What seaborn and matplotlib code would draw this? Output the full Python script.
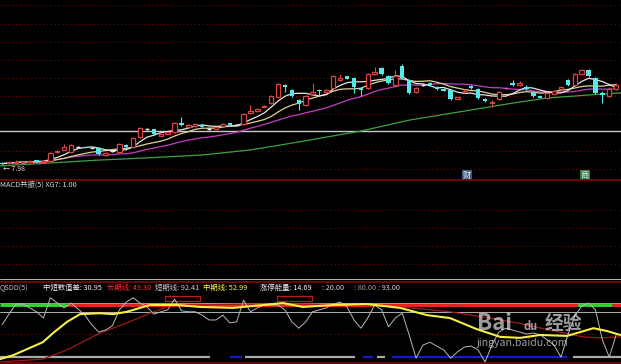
import matplotlib.pyplot as plt
import matplotlib.patches as mpatches
import numpy as np
import pandas as pd
import seaborn as sns

# daily candles (price)
opens = [8.02, 8.00, 8.01, 8.02, 8.04, 8.08, 8.05, 8.06, 8.30, 8.38,
         8.32, 8.46, 8.44, 8.43, 8.42, 8.24, 8.33, 8.31, 8.51, 8.45,
         8.73, 8.95, 8.95, 8.76, 8.82, 8.86, 9.10, 9.01, 9.03, 9.06,
         8.96, 8.95, 9.02, 9.10, 9.06, 9.08, 9.40, 9.44, 9.56, 9.66,
         9.83, 10.16, 10.02, 9.75, 9.61, 9.92, 10.03, 9.97, 10.08, 10.30,
         10.40, 10.35, 10.08, 10.08, 10.46, 10.63, 10.41, 10.16, 10.68, 10.30,
         9.97, 10.16, 10.21, 10.10, 10.05, 10.02, 9.78, 9.98, 10.13, 10.05,
         9.77, 9.66, 9.77, 10.08, 10.21, 10.16, 10.10, 9.97, 9.85, 9.80,
         9.92, 10.05, 10.30, 10.16, 10.46, 10.57, 10.35, 9.95, 9.86, 10.05]
closes = [7.99, 8.03, 8.05, 8.05, 8.07, 8.05, 8.07, 8.28, 8.35, 8.44,
          8.51, 8.46, 8.43, 8.43, 8.27, 8.28, 8.33, 8.54, 8.45, 8.70,
          8.97, 8.95, 8.81, 8.80, 8.85, 9.11, 9.05, 9.05, 9.08, 9.01,
          8.96, 8.99, 9.09, 9.07, 9.06, 9.36, 9.45, 9.50, 9.58, 9.86,
          10.19, 10.11, 9.86, 9.63, 9.86, 9.96, 9.99, 10.02, 10.41, 10.36,
          10.33, 10.11, 10.02, 10.46, 10.52, 10.46, 10.22, 10.41, 10.35, 9.94,
          10.08, 10.16, 10.16, 10.05, 10.00, 9.77, 9.82, 10.00, 10.08, 9.80,
          9.72, 9.68, 9.97, 10.08, 10.16, 10.21, 10.05, 9.86, 9.81, 9.94,
          9.99, 10.11, 10.16, 10.46, 10.57, 10.41, 9.94, 9.88, 10.05, 10.15]
highs = [8.05, 8.06, 8.08, 8.07, 8.10, 8.10, 8.09, 8.30, 8.38, 8.52,
         8.53, 8.48, 8.46, 8.45, 8.44, 8.30, 8.36, 8.56, 8.53, 8.72,
         8.99, 8.97, 8.96, 8.82, 8.87, 9.13, 9.28, 9.08, 9.12, 9.08,
         8.99, 9.01, 9.11, 9.12, 9.08, 9.38, 9.61, 9.53, 9.62, 9.88,
         10.21, 10.19, 10.05, 9.77, 9.88, 10.22, 10.05, 10.05, 10.43, 10.46,
         10.42, 10.37, 10.10, 10.48, 10.65, 10.65, 10.43, 10.57, 10.74, 10.32,
         10.10, 10.19, 10.23, 10.12, 10.07, 10.05, 9.84, 10.05, 10.15, 10.07,
         9.79, 9.75, 9.99, 10.11, 10.30, 10.26, 10.15, 9.99, 9.87, 9.96,
         10.01, 10.13, 10.32, 10.48, 10.60, 10.60, 10.37, 10.00, 10.10, 10.20]
lows = [7.98, 7.98, 7.99, 8.00, 8.02, 8.03, 8.03, 8.05, 8.28, 8.36,
        8.30, 8.44, 8.42, 8.41, 8.24, 8.20, 8.30, 8.29, 8.43, 8.43,
        8.70, 8.92, 8.79, 8.74, 8.80, 8.84, 9.03, 8.99, 9.01, 8.99,
        8.93, 8.93, 9.00, 9.05, 9.04, 9.06, 9.38, 9.42, 9.54, 9.64,
        9.81, 9.97, 9.84, 9.47, 9.58, 9.90, 9.86, 9.95, 10.06, 10.28,
        10.31, 9.94, 9.86, 10.06, 10.43, 10.44, 10.19, 10.10, 10.33, 9.91,
        9.95, 10.13, 10.13, 10.03, 9.98, 9.74, 9.76, 9.95, 10.06, 9.78,
        9.70, 9.55, 9.75, 10.05, 10.13, 10.14, 10.03, 9.84, 9.79, 9.78,
        9.90, 10.03, 10.13, 10.14, 10.44, 10.38, 9.92, 9.66, 9.84, 10.03]

# long moving average (bar index, price)
ma60_idx = [-0.3, 7, 14, 21, 29, 36, 43, 52, 59, 67, 74, 79, 87, 89.7]
ma60_val = [7.93, 8.01, 8.09, 8.15, 8.23, 8.37, 8.59, 8.89, 9.19, 9.44, 9.66, 9.80, 9.91, 9.94]

low_price = 7.98
ref_price = 8.89
signal_labels = ["财", "商"]
signal_idx = [67.4, 84.5]

# QSDD indicator
short_line = [39, 61, 82, 82, 74, 66, 53, 95, 84, 74,
              84, 72, 59, 39, 24, 28, 37, 70, 86, 95,
              84, 76, 61, 66, 70, 92, 68, 66, 66, 59,
              49, 49, 59, 43, 45, 90, 66, 74, 80, 80,
              80, 70, 45, 32, 45, 66, 70, 74, 82, 86,
              76, 49, 32, 53, 80, 70, 35, 53, 63, 18,
              -30, -3, 3, -5, -13, -30, -17, -7, -5, -13,
              -38, -3, 24, 32, 28, 24, 20, 22, 18, 8,
              -3, -28, 18, 57, 78, 84, 70, 8, -28, 18]
mid_idx = [-0.3, 1.6, 5.9, 7.4, 9.4, 11.3, 14.2, 16.1, 18.1, 20, 21.4, 25.4, 28.7, 33.5, 36.4,
           40.7, 43.6, 48, 52.9, 57.7, 61.6, 64.9, 68.8, 72.2, 75.1, 78, 81.9, 85.7, 87.7, 89.6]
mid_val = [-32, -24, 3, 22, 45, 61, 63, 61, 66, 74, 80, 80, 76, 74, 78,
           84, 76, 80, 82, 74, 59, 53, 30, 14, 12, 18, 16, 32, 26, 18]
long_idx = [-0.3, 5.9, 9.4, 14.2, 18.1, 21.4, 24.3, 28.7, 35.9, 43.2, 50.4, 57.7, 64.9,
            69.7, 74.6, 79.4, 84.2, 86.7, 89.7]
long_val = [-38, -32, -13, 22, 43, 63, 78, 80, 82, 82, 80, 76, 66, 55, 43, 28, 14, 12, 14]

level_start = [-0.3, 9.4, 83.3, 88.4]
level_end = [9.4, 83.3, 88.4, 89.7]
level_state = ["green", "red", "green", "red"]
box_start = [23.6, 39.9]
box_end = [28.7, 44.9]
bar_start = [-0.3, 33.0, 35.2, 52.3, 54.3, 56.5, 82.8]
bar_end = [30.1, 34.8, 51.2, 53.8, 55.5, 81.9, 89.7]
bar_state = ["gray", "blue", "gray", "blue", "gray", "blue", "gray"]

header = [("QSDD(5)", "#bdbdbd"), ("中短数值差: 30.95", "#f0f0f0"), ("长期线: 49.30", "#ff3030"),
          ("短期线: 92.41", "#cfcfcf"), ("中期线: 52.99", "#ffff55"), ("涨停能量: 14.69", "#f0f0f0"),
          (": 20.00", "#cfcfcf"), (": 80.00", "#9a9a9a"), (": 93.00", "#cfcfcf")]
header_x = [0, 43, 107, 155, 203, 260, 322, 354, 378]

sns.set_style("dark", {"axes.facecolor": "black", "figure.facecolor": "black"})
plt.rcParams["font.family"] = ["Noto Sans CJK SC", "DejaVu Sans"]

W, H = 621.0, 364.0
fig = plt.figure(figsize=(6.21, 3.64), dpi=100)
DOT = dict(color="#9a0000", lw=0.7, ls=(0, (1, 3)))


def panel(top, bottom):
    ax = fig.add_axes([0, 1 - bottom / H, 1, (bottom - top) / H])
    ax.set_facecolor("black")
    ax.set_xlim(-0.3, 89.7)
    ax.set_xticks([])
    ax.set_yticks([])
    ax.grid(False)
    for s in ax.spines.values():
        s.set_visible(False)
    return ax


def hline_px(y, color, lw=1.0, ls="-"):
    fig.add_artist(plt.Line2D([0, 1], [1 - y / H, 1 - y / H], color=color, lw=lw, ls=ls,
                              transform=fig.transFigure))


ax_k = panel(0, 180)
ax_m = panel(180, 281)
ax_q = panel(281, 364)

# ---- price panel ----
ax_k.set_ylim(12.5 - 180 / 36.3, 12.5)
for p in [12.35, 11.85, 11.35, 10.85, 10.35, 9.85, 9.35, 8.35, 7.85]:
    ax_k.axhline(p, **DOT)
ax_k.axhline(ref_price, color="#c8c8c8", lw=1.0)

df = pd.DataFrame({"open": opens, "close": closes, "high": highs, "low": lows})
df["idx"] = np.arange(len(df))
df["ma5"] = df["close"].rolling(5, min_periods=1).mean()
df["ma10"] = df["close"].rolling(10, min_periods=1).mean()
df["ma20"] = df["close"].rolling(20, min_periods=1).mean()

sns.lineplot(x=ma60_idx, y=ma60_val, ax=ax_k, color="#3da043", lw=0.9)
sns.lineplot(data=df, x="idx", y="ma20", ax=ax_k, color="#c23ec2", lw=0.9)
sns.lineplot(data=df, x="idx", y="ma10", ax=ax_k, color="#ddd493", lw=0.9)
sns.lineplot(data=df, x="idx", y="ma5", ax=ax_k, color="#e6e6e6", lw=0.9)

up_c, dn_c, flat_c = "#dc4444", "#55e8e8", "#e8e8e8"
bw = 0.64
for _, r in df.iterrows():
    i = r["idx"]
    if abs(r["close"] - r["open"]) < 0.005:
        col = "#e050c0" if i == 73 else flat_c
        ax_k.vlines(i, r["low"], r["high"], color=col, lw=0.8)
        ax_k.hlines(r["close"], i - bw / 2, i + bw / 2, color=col, lw=1.0)
    elif r["close"] > r["open"]:
        ax_k.vlines(i, r["close"], r["high"], color=up_c, lw=0.8)
        ax_k.vlines(i, r["low"], r["open"], color=up_c, lw=0.8)
        ax_k.bar(i, r["close"] - r["open"], bottom=r["open"], width=bw,
                 facecolor="black", edgecolor=up_c, lw=0.9, zorder=3)
    else:
        ax_k.vlines(i, r["low"], r["high"], color=dn_c, lw=0.8)
        ax_k.bar(i, r["open"] - r["close"], bottom=r["close"], width=bw,
                 color=dn_c, lw=0, zorder=3)
ax_k.set_xlim(-0.3, 89.7)
ax_k.set_xlabel("")
ax_k.set_ylabel("")

ax_k.text(0.2, low_price - 0.13, "← " + f"{low_price:.2f}", color="#e0e0e0", fontsize=5,
          va="center", ha="left")
for lab, xi, fc in zip(signal_labels, signal_idx, ["#3a5a80", "#2f7a40"]):
    ax_k.text(xi, 7.66, lab, color="#f0f0f0", fontsize=6, ha="center", va="center",
              bbox=dict(boxstyle="square,pad=0.1", fc=fc, ec="none"))

# ---- MACD panel ----
ax_m.set_ylim(281, 180)
for y in [210, 228, 246, 264]:
    ax_m.axhline(y, **DOT)
fig.text(0, 1 - 185 / H, "MACD共振(5) XG7: 1.00", color="#d8d8d8", fontsize=5.3, va="center")

# ---- QSDD panel ----
ax_q.set_ylim(80 - 2.07 * (364 - 305), 80 + 2.07 * (305 - 281))
ax_q.axhline(84, color="#9a9a9a", lw=0.7)
ax_q.axhline(65.5, color="#b0b0b0", lw=0.7)
ax_q.axhline(20, **DOT)
for s, e, st in zip(level_start, level_end, level_state):
    ax_q.hlines(80, s, e, color="#ff2020" if st == "red" else "#30e030", lw=2.0)
for s, e in zip(box_start, box_end):
    ax_q.add_patch(mpatches.Rectangle((s, 89), e - s, 10, fill=False, ec="#b02020", lw=0.9))
for s, e, st in zip(bar_start, bar_end, bar_state):
    ax_q.hlines(-27.6, s, e, color="#a8a8a8" if st == "gray" else "#1818c8", lw=1.6)

sns.lineplot(x=long_idx, y=long_val, ax=ax_q, color="#a01818", lw=0.9)
sns.lineplot(x=np.arange(len(short_line)), y=short_line, ax=ax_q, color="#b8b8b8", lw=0.7)
sns.lineplot(x=mid_idx, y=mid_val, ax=ax_q, color="#f5f040", lw=1.5)
ax_q.set_xlim(-0.3, 89.7)
ax_q.set_xlabel("")
ax_q.set_ylabel("")

for (txt, col), x in zip(header, header_x):
    fig.text(x / W, 1 - 288 / H, txt, color=col, fontsize=5.3, va="center")

# separators
hline_px(180, "#7a0a0a", lw=1.2)
hline_px(279, "#b8b8b8", lw=0.7)
hline_px(282, "#7a0a0a", lw=1.2)
hline_px(362.5, "#7a0a0a", lw=1.2)

# watermark
wm = dict(color="#e0e0e0", alpha=0.7, fontweight="bold", va="center")
fig.text(477 / W, 1 - 323 / H, "Bai", fontsize=16, **wm)
fig.text(524 / W, 1 - 327 / H, "du", fontsize=8, **wm)
fig.text(545 / W, 1 - 323 / H, "经验", fontsize=13.5, **wm)
fig.text(477 / W, 1 - 343 / H, "jingyan.baidu.com", fontsize=7.6,
         color="#e0e0e0", alpha=0.7, va="center")

fig.savefig("out.png", dpi=100, facecolor="black")
